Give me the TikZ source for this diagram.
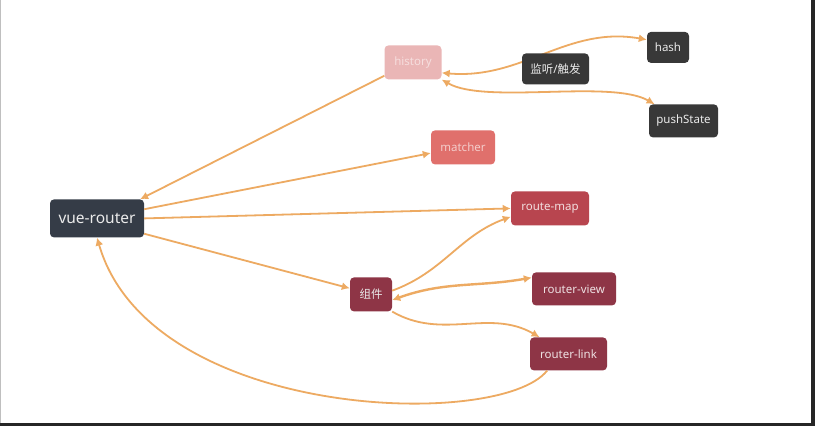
\documentclass[tikz,border=0pt]{standalone}
\usepackage{fontspec}
\setmainfont{Noto Sans}
\newfontfamily\cjk{Noto Sans CJK SC}
\usetikzlibrary{arrows.meta,backgrounds}
\pgfdeclarelayer{fg}
\pgfsetlayers{background,main,fg}
\definecolor{arr}{HTML}{EDAA62}
\definecolor{lbl}{HTML}{383838}
\definecolor{vr}{HTML}{353C47}
\definecolor{hist}{HTML}{EAB6B6}
\definecolor{match}{HTML}{E0706C}
\definecolor{rmap}{HTML}{B8454F}
\definecolor{comp}{HTML}{8E3546}
\tikzset{
  box/.style={rounded corners=4pt, inner sep=0pt, font=\fontsize{11.5}{13}\selectfont, text=white!92!black},
  lblbox/.style={box, fill=lbl},
  conn/.style={draw=arr, line width=1.8pt, -{Latex[length=8pt,width=8pt]}},
  bconn/.style={draw=arr, line width=1.8pt, {Latex[length=8pt,width=8pt]}-{Latex[length=8pt,width=8pt]}},
}
\begin{document}
\begin{tikzpicture}[x=1pt,y=-1pt]
\fill[white] (0,0) rectangle (815,426);
\fill[black!85] (811,0) rectangle (815,426);
\fill[black!85] (0,423) rectangle (815,426);
\draw[black!25, line width=0.8pt] (0.4,0) -- (0.4,423);
\useasboundingbox (0,0) rectangle (815,426);

\node[box, fill=vr, minimum width=94pt, minimum height=38pt, font=\fontsize{15.5}{17}\selectfont] (vr) at (97,218) {vue-router};
\node[box, fill=hist, text=hist!45!white, minimum width=57pt, minimum height=34pt] (history) at (413,62) {history};
\node[lblbox, minimum width=42pt, minimum height=31pt] (hash) at (668,47) {hash};
\node[lblbox, minimum width=69pt, minimum height=33pt] (push) at (683.5,120.5) {pushState};
\node[box, fill=match, text=match!35!white, minimum width=64pt, minimum height=34pt] (matcher) at (463,147) {matcher};
\node[box, fill=rmap, text=rmap!18!white, minimum width=78pt, minimum height=34pt] (rmap) at (550,208) {route-map};
\node[box, fill=comp, minimum width=42pt, minimum height=34pt] (comp) at (371,294) {\cjk 组件};
\node[box, fill=comp, text=comp!15!white, minimum width=84pt, minimum height=33pt] (rview) at (574,288.5) {router-view};
\node[box, fill=comp, text=comp!15!white, minimum width=77pt, minimum height=33pt] (rlink) at (568.5,353.5) {router-link};

\begin{pgfonlayer}{background}
\node[lblbox, minimum width=68pt, minimum height=32pt] (l1) at (244,122) {{\cjk 改变}route};
\node[lblbox, minimum width=63pt, minimum height=32pt] (l2) at (376.5,201) {\cjk 存储信息};
\node[lblbox, minimum width=62pt, minimum height=32pt] (l3) at (421,254) {\cjk 存放组件};
\end{pgfonlayer}
\begin{pgfonlayer}{fg}
\node[lblbox, minimum width=67pt, minimum height=31pt] (l4) at (555.5,68.5) {{\cjk 监听}/{\cjk 触发}};
\end{pgfonlayer}

\draw[conn] (history.205) -- (vr.24);
\draw[conn] (vr.11) -- (matcher.190);
\draw[conn] (vr.east) -- (rmap.west);
\draw[conn] (vr.-18) -- (comp.164);
\draw[conn] (rlink.218) .. controls (500,430) and (150,420) .. (vr.south);
\draw[bconn] (history.-20) to[out=-5,in=170] (hash.160);
\draw[bconn] (history.south east) to[out=-30,in=150,looseness=0.6] (push.150);
\draw[conn] (comp.10) to[out=20,in=200] (rmap.192);
\draw[bconn, line width=2.4pt] (comp.-15) to[out=20,in=190] (rview.165);
\draw[conn] (comp.south east) to[out=-30,in=150] (rlink.150);
\end{tikzpicture}
\end{document}
